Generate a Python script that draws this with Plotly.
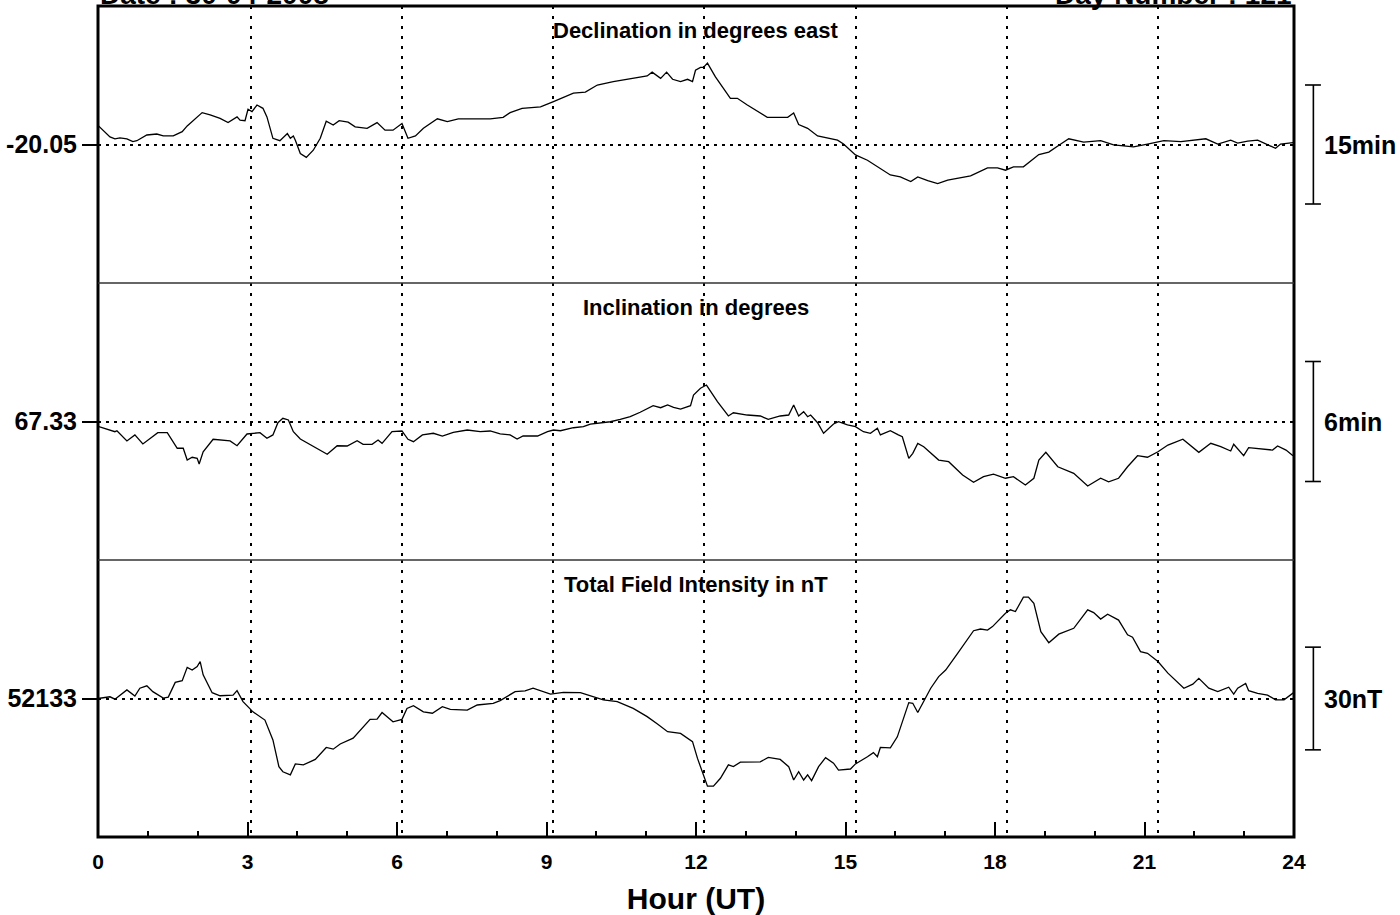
import plotly.graph_objects as go

# ---------------- data ----------------
dec_hours = [0.00, 0.24, 0.34, 0.44, 0.58, 0.70, 0.78, 0.98, 1.18, 1.31, 1.51, 1.69, 1.79, 2.09, 2.25, 2.45,
             2.61, 2.79, 2.85, 2.95, 3.01, 3.09, 3.19, 3.31, 3.39, 3.51, 3.65, 3.80, 3.86, 3.92, 3.96, 4.06,
             4.18, 4.32, 4.46, 4.58, 4.72, 4.84, 5.02, 5.16, 5.40, 5.60, 5.76, 5.92, 6.10, 6.22, 6.37, 6.53,
             6.81, 7.01, 7.23, 7.87, 8.13, 8.27, 8.51, 8.88, 9.14, 9.54, 9.78, 10.02, 10.34, 10.74, 11.02,
             11.12, 11.29, 11.41, 11.53, 11.69, 11.83, 11.93, 11.99, 12.09, 12.15, 12.23, 12.39, 12.69, 12.83,
             13.03, 13.43, 13.84, 13.96, 14.06, 14.24, 14.44, 14.64, 14.84, 14.96, 15.20, 15.44, 15.70, 15.90,
             16.10, 16.31, 16.45, 16.65, 16.85, 17.05, 17.51, 17.85, 18.05, 18.21, 18.37, 18.57, 18.88, 19.08,
             19.32, 19.48, 19.78, 20.12, 20.38, 20.78, 21.06, 21.39, 21.73, 22.23, 22.47, 22.73, 22.87, 23.07,
             23.27, 23.47, 23.63, 23.73, 23.98]
dec_values = [-20.010, -20.034, -20.038, -20.036, -20.038, -20.044, -20.042, -20.030, -20.028, -20.032, -20.032,
              -20.023, -20.011, -19.983, -19.988, -19.995, -20.004, -19.992, -19.999, -20.000, -19.976, -19.981,
              -19.967, -19.974, -19.992, -20.037, -20.042, -20.027, -20.037, -20.032, -20.041, -20.069, -20.077,
              -20.062, -20.037, -20.001, -20.009, -20.000, -20.003, -20.013, -20.016, -20.004, -20.020, -20.020,
              -20.006, -20.037, -20.032, -20.016, -19.996, -20.002, -19.996, -19.996, -19.993, -19.983, -19.974,
              -19.971, -19.960, -19.942, -19.940, -19.925, -19.918, -19.911, -19.906, -19.898, -19.911, -19.898,
              -19.913, -19.918, -19.913, -19.918, -19.894, -19.888, -19.888, -19.879, -19.908, -19.953, -19.953,
              -19.967, -19.993, -19.993, -19.984, -20.008, -20.016, -20.032, -20.037, -20.041, -20.049, -20.072,
              -20.083, -20.100, -20.114, -20.118, -20.128, -20.118, -20.126, -20.132, -20.125, -20.116, -20.099,
              -20.099, -20.104, -20.097, -20.097, -20.071, -20.066, -20.049, -20.038, -20.045, -20.042, -20.051,
              -20.055, -20.049, -20.042, -20.044, -20.038, -20.049, -20.041, -20.047, -20.043, -20.041, -20.051,
              -20.058, -20.049, -20.046]

inc_hours = [0.00, 0.18, 0.34, 0.38, 0.58, 0.74, 0.90, 1.20, 1.39, 1.59, 1.71, 1.79, 1.89, 1.99, 2.03, 2.11,
             2.31, 2.65, 2.79, 2.99, 3.25, 3.39, 3.51, 3.61, 3.71, 3.82, 3.92, 4.06, 4.32, 4.60, 4.80, 5.00,
             5.20, 5.32, 5.50, 5.62, 5.70, 5.90, 6.10, 6.22, 6.33, 6.51, 6.73, 6.91, 7.13, 7.41, 7.67, 7.87,
             8.07, 8.27, 8.41, 8.53, 8.82, 9.02, 9.14, 9.28, 9.54, 9.74, 9.88, 10.28, 10.48, 10.68, 10.88,
             11.14, 11.29, 11.43, 11.55, 11.69, 11.89, 11.95, 12.09, 12.21, 12.43, 12.65, 12.75, 13.03, 13.29,
             13.45, 13.69, 13.86, 13.96, 14.06, 14.16, 14.24, 14.30, 14.44, 14.56, 14.76, 14.86, 15.04, 15.20,
             15.36, 15.50, 15.64, 15.70, 15.90, 16.06, 16.14, 16.27, 16.35, 16.45, 16.57, 16.87, 17.07, 17.35,
             17.57, 17.77, 17.97, 18.21, 18.37, 18.61, 18.78, 18.88, 19.02, 19.26, 19.58, 19.86, 20.12, 20.28,
             20.48, 20.66, 20.86, 21.06, 21.27, 21.47, 21.77, 22.09, 22.33, 22.53, 22.73, 22.79, 22.99, 23.09,
             23.33, 23.57, 23.67, 23.84, 23.98]
inc_values = [67.3260, 67.3238, 67.3215, 67.3223, 67.3138, 67.3188, 67.3113, 67.3207, 67.3207, 67.3077, 67.3077,
              67.2979, 67.3002, 67.2993, 67.2946, 67.3048, 67.3152, 67.3138, 67.3098, 67.3196, 67.3207, 67.3160,
              67.3188, 67.3290, 67.3327, 67.3313, 67.3215, 67.3154, 67.3090, 67.3027, 67.3098, 67.3096, 67.3140,
              67.3110, 67.3110, 67.3146, 67.3118, 67.3215, 67.3221, 67.3152, 67.3132, 67.3188, 67.3202, 67.3179,
              67.3210, 67.3229, 67.3215, 67.3221, 67.3196, 67.3188, 67.3154, 67.3179, 67.3179, 67.3215, 67.3229,
              67.3223, 67.3248, 67.3257, 67.3279, 67.3298, 67.3318, 67.3340, 67.3377, 67.3432, 67.3415, 67.3438,
              67.3418, 67.3404, 67.3432, 67.3521, 67.3577, 67.3604, 67.3465, 67.3346, 67.3373, 67.3354, 67.3346,
              67.3318, 67.3346, 67.3354, 67.3438, 67.3346, 67.3382, 67.3340, 67.3354, 67.3290, 67.3202, 67.3279,
              67.3298, 67.3271, 67.3257, 67.3215, 67.3202, 67.3243, 67.3188, 67.3223, 67.3188, 67.3173, 67.2993,
              67.3035, 67.3118, 67.3090, 67.2979, 67.2965, 67.2854, 67.2793, 67.2840, 67.2862, 67.2827, 67.2840,
              67.2771, 67.2827, 67.2979, 67.3043, 67.2923, 67.2868, 67.2762, 67.2827, 67.2798, 67.2827, 67.2923,
              67.3015, 67.3002, 67.3048, 67.3104, 67.3152, 67.3043, 67.3118, 67.3090, 67.3054, 67.3110, 67.3015,
              67.3082, 67.3071, 67.3062, 67.3096, 67.3062, 67.3015]

tf_hours = [0.00, 0.24, 0.34, 0.58, 0.74, 0.84, 0.98, 1.10, 1.31, 1.41, 1.55, 1.69, 1.79, 1.89, 1.99, 2.05,
            2.11, 2.29, 2.45, 2.59, 2.71, 2.79, 2.91, 3.11, 3.35, 3.51, 3.63, 3.71, 3.86, 3.96, 4.12, 4.36,
            4.58, 4.72, 4.86, 5.12, 5.46, 5.60, 5.70, 5.92, 6.10, 6.20, 6.33, 6.53, 6.71, 6.91, 7.07, 7.41,
            7.61, 7.93, 8.07, 8.37, 8.57, 8.73, 9.08, 9.34, 9.68, 10.14, 10.42, 10.74, 11.02, 11.22, 11.43,
            11.69, 11.93, 12.03, 12.23, 12.35, 12.49, 12.65, 12.75, 12.89, 13.29, 13.45, 13.69, 13.86, 13.96,
            14.06, 14.16, 14.24, 14.32, 14.46, 14.60, 14.76, 14.86, 15.10, 15.20, 15.44, 15.56, 15.64, 15.70,
            15.90, 16.04, 16.27, 16.35, 16.45, 16.71, 16.87, 17.01, 17.25, 17.45, 17.57, 17.71, 17.85, 17.95,
            18.21, 18.31, 18.41, 18.57, 18.67, 18.78, 18.92, 19.08, 19.28, 19.58, 19.86, 19.98, 20.12, 20.26,
            20.48, 20.66, 20.76, 20.92, 21.06, 21.27, 21.47, 21.79, 21.97, 22.09, 22.29, 22.47, 22.69, 22.79,
            22.87, 23.03, 23.09, 23.27, 23.47, 23.63, 23.80, 24.00]
tf_values = [52133.0, 52133.5, 52132.8, 52135.5, 52133.7, 52136.0, 52136.7, 52135.0, 52133.1, 52133.4, 52137.7,
             52138.2, 52142.1, 52141.3, 52142.3, 52143.8, 52139.9, 52134.7, 52133.8, 52134.0, 52134.0, 52135.3,
             52132.1, 52129.1, 52126.7, 52120.9, 52113.1, 52111.6, 52110.7, 52113.9, 52113.6, 52115.2, 52118.7,
             52118.2, 52119.7, 52121.4, 52126.9, 52127.0, 52128.9, 52126.2, 52126.9, 52130.1, 52130.9, 52129.1,
             52128.7, 52130.6, 52129.8, 52129.6, 52131.1, 52131.6, 52132.4, 52135.0, 52135.2, 52136.0, 52134.3,
             52134.8, 52134.7, 52132.6, 52132.1, 52130.1, 52127.7, 52125.6, 52123.3, 52122.8, 52120.4, 52115.5,
             52107.4, 52107.4, 52109.7, 52113.6, 52113.1, 52114.4, 52114.5, 52115.8, 52115.2, 52113.1, 52109.2,
             52111.6, 52109.2, 52110.7, 52109.0, 52113.1, 52115.7, 52114.1, 52112.1, 52112.4, 52113.9, 52116.0,
             52117.2, 52116.0, 52118.7, 52118.6, 52121.8, 52131.8, 52131.6, 52128.9, 52136.0, 52139.4, 52141.3,
             52146.2, 52150.1, 52152.8, 52153.3, 52153.0, 52154.0, 52157.9, 52158.9, 52158.4, 52162.6, 52162.6,
             52160.8, 52152.5, 52149.3, 52151.8, 52153.5, 52158.9, 52158.1, 52156.2, 52157.6, 52155.9, 52151.6,
             52150.9, 52146.7, 52146.2, 52143.8, 52140.4, 52136.0, 52137.2, 52138.9, 52136.0, 52135.0, 52136.3,
             52134.3, 52136.0, 52137.4, 52135.3, 52134.5, 52134.0, 52132.6, 52132.6, 52134.8]

panel_titles = ["Declination in degrees east", "Inclination in degrees", "Total Field Intensity in nT"]
base_values = [-20.05, 67.33, 52133]
base_labels = ["-20.05", "67.33", "52133"]
scale_sizes = [0.25, 0.1, 30]          # 15 min, 6 min, 30 nT in axis units
scale_labels = ["15min", "6min", "30nT"]
axis_half_spans = [0.29097, 0.11542, 40.457]
hour_ticks = list(range(0, 25, 3))
grid_hours = hour_ticks[1:-1]
header_left = "Date : 30-04-2008"
header_right = "Day Number : 121"
x_title = "Hour (UT)"

FONT = "Liberation Sans, Arial, sans-serif"

fig = go.Figure()
series = [(dec_hours, dec_values), (inc_hours, inc_values), (tf_hours, tf_values)]
domains = [[2 / 3, 1.0], [1 / 3, 2 / 3], [0.0, 1 / 3]]

for i, (hx, hy) in enumerate(series):
    xa = "x" if i == 0 else f"x{i + 1}"
    ya = "y" if i == 0 else f"y{i + 1}"
    fig.add_trace(go.Scatter(x=hx, y=hy, mode="lines", xaxis=xa, yaxis=ya,
                             line=dict(color="black", width=1.3), showlegend=False,
                             hoverinfo="skip"))
    # empty trace on overlay axis that carries the dotted hour grid
    fig.add_trace(go.Scatter(x=[], y=[], xaxis=f"x{i + 4}", yaxis=ya, showlegend=False,
                             hoverinfo="skip"))

layout = dict(
    width=1400, height=915,
    margin=dict(l=98, r=106, t=6, b=78),
    paper_bgcolor="white", plot_bgcolor="white",
    font=dict(family=FONT, color="black"),
    showlegend=False,
)

for i in range(3):
    xk = "xaxis" if i == 0 else f"xaxis{i + 1}"
    yk = "yaxis" if i == 0 else f"yaxis{i + 1}"
    ya = "y" if i == 0 else f"y{i + 1}"
    xa = "x" if i == 0 else f"x{i + 1}"
    c, h = base_values[i], axis_half_spans[i]
    layout[yk] = dict(domain=domains[i], anchor=xa, range=[c - h, c + h],
                      tickmode="array", tickvals=[c], ticktext=[base_labels[i]],
                      ticks="outside", ticklen=15, tickwidth=2, tickcolor="black",
                      tickfont=dict(size=25, family=FONT, weight="bold"),
                      showgrid=True, gridcolor="black", gridwidth=1.6, griddash="3px,5px",
                      zeroline=False, showline=False, fixedrange=True)
    xa_cfg = dict(anchor=ya, domain=[0, 1], range=[0, 24], showgrid=False, zeroline=False,
                  showline=False, fixedrange=True)
    if i < 2:
        xa_cfg.update(showticklabels=False, ticks="")
    else:
        xa_cfg.update(tickmode="array", tickvals=hour_ticks, ticktext=[str(t) for t in hour_ticks],
                      ticks="inside", ticklen=15, tickwidth=2, tickcolor="black",
                      tickfont=dict(size=21, family=FONT, weight="bold"),
                      ticklabelstandoff=10,
                      minor=dict(dtick=1, tick0=0, ticks="inside", ticklen=6, tickwidth=1.5,
                                 tickcolor="black", showgrid=False),
                      title=dict(text=x_title, font=dict(size=30, family=FONT, weight="bold"),
                                 standoff=15))
    layout[xk] = xa_cfg
    # overlay axis for the dotted hour grid
    layout[f"xaxis{i + 4}"] = dict(overlaying=xa, anchor=ya, range=[-0.0298, 23.70],
                                   tickmode="array", tickvals=grid_hours,
                                   showgrid=True, gridcolor="black", gridwidth=1.8,
                                   griddash="3px,7px", showticklabels=False, ticks="",
                                   zeroline=False, showline=False, fixedrange=True)

shapes = [
    dict(type="rect", xref="paper", yref="paper", x0=0, x1=1, y0=0, y1=1,
         line=dict(color="black", width=3)),
    dict(type="line", xref="paper", yref="paper", x0=0, x1=1, y0=1 / 3, y1=1 / 3,
         line=dict(color="#333333", width=1.6)),
    dict(type="line", xref="paper", yref="paper", x0=0, x1=1, y0=2 / 3, y1=2 / 3,
         line=dict(color="#333333", width=1.6)),
]
annotations = []
for i in range(3):
    ya = "y" if i == 0 else f"y{i + 1}"
    c, s = base_values[i], scale_sizes[i] / 2
    shapes.append(dict(type="line", xref="paper", yref=ya, x0=1.0162, x1=1.0162, y0=c - s, y1=c + s,
                       line=dict(color="black", width=1.6)))
    for yy in (c - s, c + s):
        shapes.append(dict(type="line", xref="paper", yref=ya, x0=1.0092, x1=1.0225, y0=yy, y1=yy,
                           line=dict(color="black", width=1.6)))
    annotations.append(dict(xref="paper", yref=ya, x=1.0235, y=c, xanchor="left", yanchor="middle",
                            text=scale_labels[i], showarrow=False,
                            font=dict(size=25, family=FONT, weight="bold", color="black")))
    annotations.append(dict(xref="paper", yref=f"{ya} domain", x=0.5, y=1, xanchor="center",
                            yanchor="middle", yshift=-24, text=panel_titles[i], showarrow=False,
                            font=dict(size=22, family=FONT, weight="bold", color="black")))

annotations.append(dict(xref="paper", yref="paper", x=0, y=1, xanchor="left", yanchor="bottom",
                        yshift=-6, text=header_left, showarrow=False,
                        font=dict(size=28, family=FONT, weight="bold", color="black")))
annotations.append(dict(xref="paper", yref="paper", x=1, y=1, xanchor="right", yanchor="bottom",
                        yshift=-6, text=header_right, showarrow=False,
                        font=dict(size=28, family=FONT, weight="bold", color="black")))

layout["shapes"] = shapes
layout["annotations"] = annotations
fig.update_layout(**layout)

# remove the browser's default 8px page margin so the figure sits at the window origin
fig.write_html("out.html", config={"displayModeBar": False},
               post_script="document.body.style.margin='0';")
